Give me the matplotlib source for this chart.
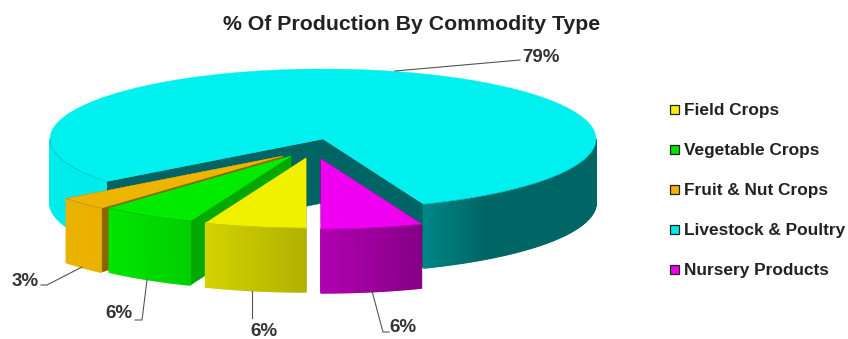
# % of production by commodity type - 3D looking exploded pie

import numpy as np
import matplotlib
matplotlib.use('Agg')
import matplotlib.pyplot as plt
from matplotlib.patches import Rectangle

title = '% Of Production By Commodity Type'
legend_names = ['Field Crops', 'Vegetable Crops', 'Fruit & Nut Crops', 'Livestock & Poultry', 'Nursery Products']
shares = [6.0, 5.6, 3.0, 79.4, 6.0]
pct_labels = ['6%', '6%', '3%', '79%', '6%']

colors = [(0.94, 0.94, 0.0), (0.0, 0.92, 0.0), (0.93, 0.71, 0.0), (0.0, 0.94, 0.94), (0.94, 0.0, 0.94)]
cut_colors = ['#a0a000', '#00a800', '#8c6400', '#006464', '#800080']
swatch_colors = ['#f0f000', '#00e000', '#f0b400', '#00e8e8', '#e800e8']

# slice centres in pixels, each one is pulled out a bit differently
centers = [(306, 158), (291, 156), (283, 156), (323, 139), (321, 159)]
rx, ry, depth = 273, 70, 64

# leader lines (pixels) and where the label sits
leaders = [
    [(252, 291), (252, 318)],
    [(147, 280), (142, 320), (135, 320)],
    [(82, 267), (47, 285), (41, 285)],
    [(395, 71), (520, 60)],
    [(372, 291), (383, 332), (389, 332)],
]
label_pos = [(264, 332), (119, 314), (25, 281), (541, 58), (403, 327)]

plt.rcParams['font.family'] = ['Liberation Sans', 'DejaVu Sans']
fig = plt.figure(figsize=(8.48, 3.39), dpi=100)
ax = fig.add_axes([0, 0, 1, 1])
ax.set_xlim(0, 848)
ax.set_ylim(339, 0)
ax.axis('off')


def rim(center, t):
    # t is degrees measured from straight down, going clockwise on screen
    r = np.radians(t)
    return center[0] - rx * np.sin(r), center[1] + ry * np.cos(r)


def shade(t):
    # light comes from the left, walls get darker to the right
    x = -np.sin(np.radians(t))
    return np.interp(x, [-1, -0.7, -0.37, 0, 0.37, 0.6, 1], [0.98, 0.99, 0.88, 0.74, 0.56, 0.42, 0.42])


def draw_cut(center, t, color):
    px, py = rim(center, t)
    xs = [center[0], px, px, center[0]]
    ys = [center[1], py, py + depth, center[1] + depth]
    ax.fill(xs, ys, color=color, lw=0.3)


def draw_slice(center, t0, t1, color, cut_color):
    draw_cut(center, t0, cut_color)
    draw_cut(center, t1, cut_color)

    # outer wall, only the front half is visible
    for t in np.arange(t0, t1, 0.5):
        u = (t + 180) % 360 - 180
        if abs(u) > 90:
            continue
        x0, y0 = rim(center, t)
        x1, y1 = rim(center, min(t + 0.5, t1))
        c = tuple(v * shade(t) for v in color)
        ax.fill([x0, x1, x1, x0], [y0, y1, y1 + depth, y0 + depth], color=c, lw=1.0)

    # top face
    ts = np.linspace(t0, t1, 400)
    xs = [center[0]] + [rim(center, t)[0] for t in ts]
    ys = [center[1]] + [rim(center, t)[1] for t in ts]
    ax.fill(xs, ys, color=color, lw=0.3)

    # thin darker line where the top meets the wall
    front = [t for t in ts if abs((t + 180) % 360 - 180) <= 90]
    if len(front) > 0:
        gaps = np.where(np.diff(front) > 1)[0] + 1
        for part in np.split(np.array(front), gaps):
            ax.plot([rim(center, t)[0] for t in part], [rim(center, t)[1] for t in part],
                    color=tuple(v * 0.8 for v in color), lw=0.5)


# livestock goes first since it is at the back, then the others front to back
starts = np.cumsum([0] + shares[:-1]) * 3.6
ends = np.cumsum(shares) * 3.6
for i in [3, 2, 1, 0, 4]:
    draw_slice(centers[i], starts[i], ends[i], colors[i], cut_colors[i])

for line, label, pos in zip(leaders, pct_labels, label_pos):
    ax.plot([p[0] for p in line], [p[1] for p in line], color='#555555', lw=0.8)
    ax.text(pos[0], pos[1], label, fontsize=13.5, fontweight='bold', color='#333333', ha='center', va='center')

ax.text(412, 24, title, fontsize=15.3, fontweight='bold', color='#222222', ha='center', va='center')

for i, name in enumerate(legend_names):
    y = 109 + 40 * i
    ax.add_patch(Rectangle((670, y - 4.5), 9, 9, facecolor=swatch_colors[i], edgecolor='#222222', lw=0.9))
    ax.text(684, y + 1, name, fontsize=12.4, fontweight='bold', color='#222222', ha='left', va='center')

fig.savefig('out.png', dpi=100)
